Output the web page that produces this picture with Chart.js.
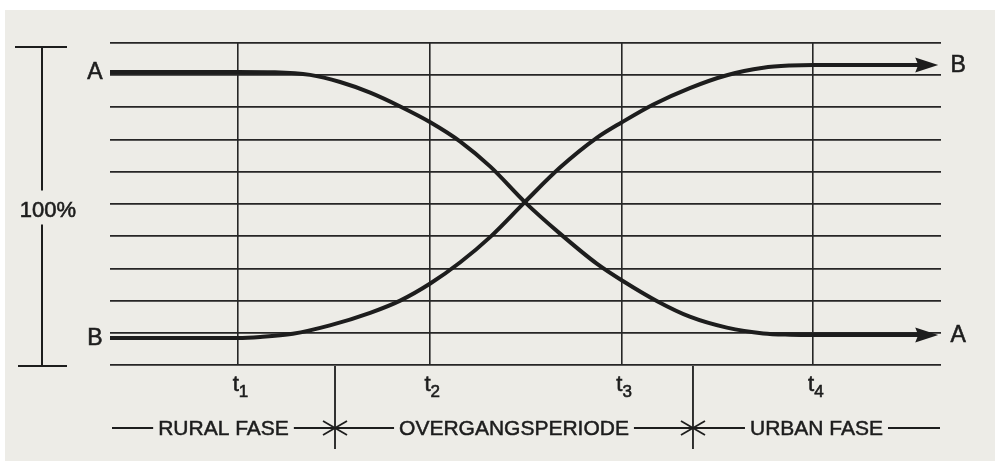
<!DOCTYPE html>
<html><head><meta charset="utf-8">
<script src="https://cdn.jsdelivr.net/npm/chart.js@4"></script>
<style>html,body{margin:0;padding:0;background:#fff;}#wrap{width:995px;height:461px;}canvas{display:block;}</style>
</head><body><div id="wrap"><canvas id="c" width="995" height="461"></canvas></div>
<script>
// ---- data (x in time units, t1=2, t2=5, t3=8, t4=11; y in percent) ----
const seriesNames = ['A', 'B'];
const xA = [0, 2.0, 2.58, 3.13, 3.6, 4.07, 4.54, 5.01, 5.48, 5.95, 6.49, 7.04, 7.62, 8.03, 8.56, 9.07, 9.65, 10.22, 10.64, 11.0, 12.8];
const yA = [91.0, 91.0, 90.9, 90.1, 87.9, 84.6, 80.3, 75.4, 69.4, 61.6, 50.6, 40.8, 31.4, 26.0, 19.8, 15.0, 11.6, 9.8, 9.4, 9.3, 9.3];
const xB = [0, 2.0, 2.35, 2.86, 3.44, 4.07, 4.54, 5.01, 5.48, 5.95, 6.49, 7.04, 7.62, 8.01, 8.5, 9.07, 9.65, 10.22, 10.64, 11.0, 12.8];
const yB = [8.4, 8.4, 8.7, 9.7, 12.3, 16.2, 20.0, 25.3, 31.9, 39.8, 50.6, 61.3, 70.6, 75.4, 80.9, 86.0, 90.0, 92.3, 93.0, 93.2, 93.2];
const timeTicks = [2, 5, 8, 11];
const timeSubs = ['1', '2', '3', '4'];
const levelTicks = [0, 10, 20, 30, 40, 50, 60, 70, 80, 90, 100];
const phaseBounds = [0, 3.52, 9.12, 13];
const phaseNames = ['RURAL FASE', 'OVERGANGSPERIODE', 'URBAN FASE'];
const scaleLabel = '100%';

const INK = '#1d1d1d';
const FONT = '"Liberation Sans", Arial, sans-serif';

const paper = {
  id: 'paper',
  beforeDraw(chart) {
    const c = chart.ctx;
    c.save();
    c.fillStyle = '#ffffff';
    c.fillRect(0, 0, chart.width, chart.height);
    c.fillStyle = '#edece7';
    c.fillRect(5, 10, chart.width - 5, chart.height - 10);
    c.restore();
  }
};

const arrows = {
  id: 'arrows',
  afterDatasetsDraw(chart) {
    const c = chart.ctx;
    c.save();
    c.fillStyle = INK;
    chart.data.datasets.forEach((ds, i) => {
      const meta = chart.getDatasetMeta(i);
      const p = meta.data[meta.data.length - 1];
      c.beginPath();
      c.moveTo(p.x + 10, p.y);
      c.lineTo(p.x - 13, p.y - 7.5);
      c.lineTo(p.x - 10, p.y);
      c.lineTo(p.x - 13, p.y + 7.5);
      c.closePath();
      c.fill();
    });
    c.restore();
  }
};

function line(c, x1, y1, x2, y2) { c.beginPath(); c.moveTo(x1, y1); c.lineTo(x2, y2); c.stroke(); }
function text(c, s, x, y) { c.fillText(s, x, y); c.strokeText(s, x, y); }

const notes = {
  id: 'notes',
  afterDraw(chart) {
    const c = chart.ctx, xs = chart.scales.x, ys = chart.scales.y;
    c.save();
    c.strokeStyle = INK; c.fillStyle = INK; c.lineWidth = 2;
    // 100% bracket
    const bx = 42, top = ys.getPixelForValue(100) + 4, bot = ys.getPixelForValue(0) + 1;
    const mid = ys.getPixelForValue(48);
    line(c, 15, top, 67, top);
    line(c, 18, bot, 67, bot);
    line(c, bx, top, bx, mid - 20);
    line(c, bx, mid + 14, bx, bot);
    c.lineWidth = 0.6;
    c.font = '22px ' + FONT; c.textAlign = 'center'; c.textBaseline = 'middle';
    text(c, scaleLabel, 48, mid);
    // series labels
    c.font = '23px ' + FONT;
    chart.data.datasets.forEach((ds, i) => {
      const meta = chart.getDatasetMeta(i);
      const p0 = meta.data[0], pn = meta.data[meta.data.length - 1];
      c.textAlign = 'center';
      text(c, seriesNames[i], p0.x - 15, p0.y + 1);
      text(c, seriesNames[i], pn.x + 30, pn.y + 1);
    });
    // t labels
    c.textBaseline = 'alphabetic';
    timeTicks.forEach((v, i) => {
      const x = xs.getPixelForValue(v);
      c.font = '22px ' + FONT; c.textAlign = 'right';
      text(c, 't', x + 1, 391);
      c.font = '17px ' + FONT; c.textAlign = 'left';
      text(c, timeSubs[i], x + 1, 397);
    });
    // phase row
    const yb = bot, yr = 428;
    c.lineWidth = 1.8;
    for (let k = 1; k < phaseBounds.length - 1; k++) {
      const x = xs.getPixelForValue(phaseBounds[k]);
      line(c, x, yb, x, 449);
      line(c, x - 12, yr - 7, x + 12, yr + 7);
      line(c, x - 12, yr + 7, x + 12, yr - 7);
    }
    c.font = '21px ' + FONT; c.textAlign = 'center'; c.textBaseline = 'middle';
    phaseNames.forEach((name, k) => {
      const xa = xs.getPixelForValue(phaseBounds[k]) + (k === 0 ? 2 : 0);
      const xb = xs.getPixelForValue(phaseBounds[k + 1]) - (k === phaseNames.length - 1 ? 1 : 0);
      const xc = (xa + xb) / 2;
      const w = c.measureText(name).width;
      c.lineWidth = 0.5;
      text(c, name, xc, yr + 1);
      c.lineWidth = 1.8;
      line(c, xa, yr, xc - w / 2 - 5, yr);
      line(c, xc + w / 2 + 5, yr, xb, yr);
    });
    c.restore();
  }
};

new Chart(document.getElementById('c'), {
  type: 'line',
  data: {
    datasets: [
      { label: seriesNames[0], data: xA.map((x, i) => ({ x, y: yA[i] })), borderColor: INK, borderWidth: 4, pointRadius: 0, cubicInterpolationMode: 'monotone', fill: false, borderCapStyle: 'round' },
      { label: seriesNames[1], data: xB.map((x, i) => ({ x, y: yB[i] })), borderColor: INK, borderWidth: 4, pointRadius: 0, cubicInterpolationMode: 'monotone', fill: false, borderCapStyle: 'round' }
    ]
  },
  options: {
    responsive: false, animation: false, devicePixelRatio: 1,
    layout: { padding: { left: 110, right: 54, top: 43, bottom: 96 } },
    plugins: { legend: { display: false }, tooltip: { enabled: false } },
    scales: {
      x: {
        type: 'linear', min: 0, max: 13,
        ticks: { display: false },
        afterBuildTicks: s => { s.ticks = timeTicks.map(v => ({ value: v })); },
        grid: { color: '#262626', lineWidth: 1.6, drawTicks: false },
        border: { display: false },
        afterFit: s => { s.height = 0; }
      },
      y: {
        type: 'linear', min: 0, max: 100,
        ticks: { display: false },
        afterBuildTicks: s => { s.ticks = levelTicks.map(v => ({ value: v })); },
        grid: { color: '#262626', lineWidth: 1.8, drawTicks: false },
        border: { display: false },
        afterFit: s => { s.width = 0; }
      }
    }
  },
  plugins: [paper, arrows, notes]
});
</script>
</body></html>
